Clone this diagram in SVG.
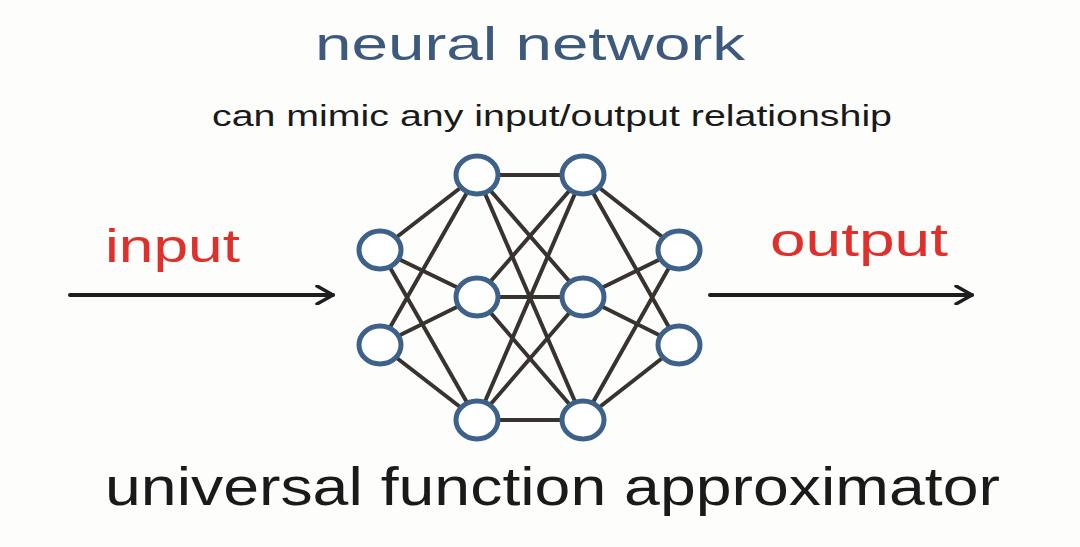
<svg xmlns="http://www.w3.org/2000/svg" width="1080" height="547" viewBox="0 0 1080 547">
<defs>
<style>
.edge{stroke:#38332f;stroke-width:4;stroke-linecap:round;fill:none}
.node{fill:#ffffff;stroke:#3d6189;stroke-width:5}
.t{font-family:"Liberation Sans",Arial,sans-serif}
.arrow{stroke:#1e1e1e;stroke-width:4;stroke-linecap:round;fill:none}
</style>
<marker id="ah" viewBox="0 0 20 20" refX="18" refY="10" markerWidth="20" markerHeight="20" markerUnits="userSpaceOnUse" orient="auto">
<path d="M2 1 L18 10 L2 19" fill="none" stroke="#1e1e1e" stroke-width="3.5" stroke-linecap="round" stroke-linejoin="round"/>
</marker>
</defs>
<rect width="1080" height="547" fill="#fdfdfc"/>
<text class="t" x="530" y="60" font-size="46" fill="#3d5a7c" text-anchor="middle" textLength="430" lengthAdjust="spacingAndGlyphs">neural network</text>
<text class="t" x="552" y="126" font-size="29" fill="#1a1a1a" text-anchor="middle" textLength="680" lengthAdjust="spacingAndGlyphs">can mimic any input/output relationship</text>
<text class="t" x="105" y="262" font-size="46" fill="#e0302b" textLength="135" lengthAdjust="spacingAndGlyphs">input</text>
<text class="t" x="770" y="256" font-size="46" fill="#e0302b" textLength="178" lengthAdjust="spacingAndGlyphs">output</text>
<text class="t" x="105" y="505" font-size="54" fill="#1a1a1a" textLength="895" lengthAdjust="spacingAndGlyphs">universal function approximator</text>
<g id="connectors">
<line class="arrow" x1="70" y1="295" x2="333" y2="295" marker-end="url(#ah)"/>
<line class="arrow" x1="710" y1="295" x2="972" y2="295" marker-end="url(#ah)"/>
<line class="edge" x1="380" y1="250" x2="477" y2="175"/>
<line class="edge" x1="380" y1="250" x2="477" y2="297"/>
<line class="edge" x1="380" y1="250" x2="477" y2="420"/>
<line class="edge" x1="380" y1="345" x2="477" y2="175"/>
<line class="edge" x1="380" y1="345" x2="477" y2="297"/>
<line class="edge" x1="380" y1="345" x2="477" y2="420"/>
<line class="edge" x1="477" y1="175" x2="583" y2="175"/>
<line class="edge" x1="477" y1="175" x2="583" y2="297"/>
<line class="edge" x1="477" y1="175" x2="583" y2="420"/>
<line class="edge" x1="477" y1="297" x2="583" y2="175"/>
<line class="edge" x1="477" y1="297" x2="583" y2="297"/>
<line class="edge" x1="477" y1="297" x2="583" y2="420"/>
<line class="edge" x1="477" y1="420" x2="583" y2="175"/>
<line class="edge" x1="477" y1="420" x2="583" y2="297"/>
<line class="edge" x1="477" y1="420" x2="583" y2="420"/>
<line class="edge" x1="583" y1="175" x2="679" y2="250"/>
<line class="edge" x1="583" y1="175" x2="679" y2="345"/>
<line class="edge" x1="583" y1="297" x2="679" y2="250"/>
<line class="edge" x1="583" y1="297" x2="679" y2="345"/>
<line class="edge" x1="583" y1="420" x2="679" y2="250"/>
<line class="edge" x1="583" y1="420" x2="679" y2="345"/>
</g>
<g id="in1"><ellipse class="node" cx="380" cy="250" rx="21" ry="19"/></g>
<g id="in2"><ellipse class="node" cx="380" cy="345" rx="21" ry="19"/></g>
<g id="h1a"><ellipse class="node" cx="477" cy="175" rx="21" ry="19"/></g>
<g id="h1b"><ellipse class="node" cx="477" cy="297" rx="21" ry="19"/></g>
<g id="h1c"><ellipse class="node" cx="477" cy="420" rx="21" ry="19"/></g>
<g id="h2a"><ellipse class="node" cx="583" cy="175" rx="21" ry="19"/></g>
<g id="h2b"><ellipse class="node" cx="583" cy="297" rx="21" ry="19"/></g>
<g id="h2c"><ellipse class="node" cx="583" cy="420" rx="21" ry="19"/></g>
<g id="out1"><ellipse class="node" cx="679" cy="250" rx="21" ry="19"/></g>
<g id="out2"><ellipse class="node" cx="679" cy="345" rx="21" ry="19"/></g>
</svg>
